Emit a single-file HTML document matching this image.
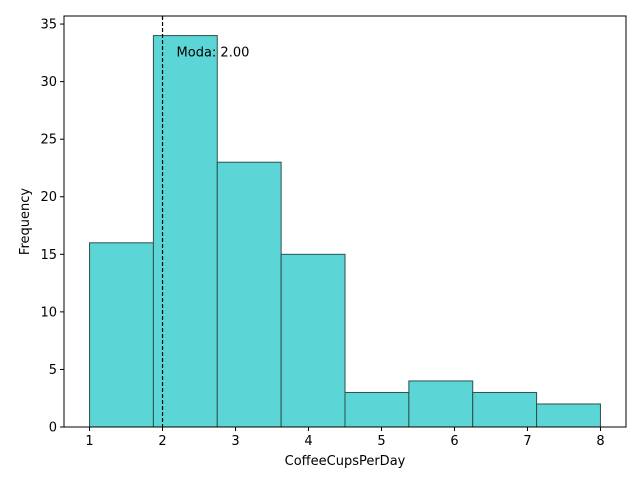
<!DOCTYPE html>
<html><head><meta charset="utf-8"><style>
body{margin:0;background:#fff;font-family:"Liberation Sans","DejaVu Sans",sans-serif}
svg text{font-family:"DejaVu Sans","Liberation Sans",sans-serif;font-size:13px;fill:#000}
</style></head><body>
<svg id="chart" width="640" height="480" xmlns="http://www.w3.org/2000/svg"></svg>
<script>
const binEdges=[1,1.875,2.75,3.625,4.5,5.375,6.25,7.125,8];
const counts=[16,34,23,15,3,4,3,2];
const xTicks=[1,2,3,4,5,6,7,8];
const yTicks=[0,5,10,15,20,25,30,35];
const modeValue=2.00;
const L=64,R=626,T=16,B=427,xMin=0.65,xMax=8.35,yMin=0,yMax=35.7;
const X=v=>L+(v-xMin)/(xMax-xMin)*(R-L);
const Y=v=>B-(v-yMin)/(yMax-yMin)*(B-T);
const svg=document.getElementById('chart');
const NS='http://www.w3.org/2000/svg';
function mk(tag,attrs,parent){const e=document.createElementNS(NS,tag);for(const k in attrs)e.setAttribute(k,attrs[k]);(parent||svg).appendChild(e);return e;}
counts.forEach((c,i)=>{
  const r=mk('rect',{x:X(binEdges[i]),y:Y(c),width:X(binEdges[i+1])-X(binEdges[i]),height:Y(0)-Y(c),fill:'#5bd5d5',stroke:'#2f4f4f','stroke-width':1});
  
  
});
const ml=mk('line',{x1:X(modeValue),x2:X(modeValue),y1:T,y2:B,stroke:'#000','stroke-width':1.2,'stroke-dasharray':'4,2'});


const mt=mk('text',{x:X(modeValue)+14,y:Y(32.2)});
mt.textContent='Moda: '+modeValue.toFixed(2);


const frame=mk('rect',{x:L,y:T,width:R-L,height:B-T,fill:'none',stroke:'#000','stroke-width':1});


xTicks.forEach(t=>{
  mk('line',{x1:X(t),x2:X(t),y1:B,y2:B+4,stroke:'#000'});
  const tx=mk('text',{x:X(t),y:B+18,'text-anchor':'middle'});tx.textContent=t;
  
  
});
yTicks.forEach(t=>{
  mk('line',{x1:L-4,x2:L,y1:Y(t),y2:Y(t),stroke:'#000'});
  const tx=mk('text',{x:L-7,y:Y(t)+4.5,'text-anchor':'end'});tx.textContent=t;
  
  
});
const xt=mk('text',{x:(L+R)/2,y:465,'text-anchor':'middle'});xt.textContent='CoffeeCupsPerDay';


const yt=mk('text',{x:29,y:(T+B)/2,'text-anchor':'middle',transform:'rotate(-90 29 '+((T+B)/2)+')'});yt.textContent='Frequency';


</script>
</body></html>
